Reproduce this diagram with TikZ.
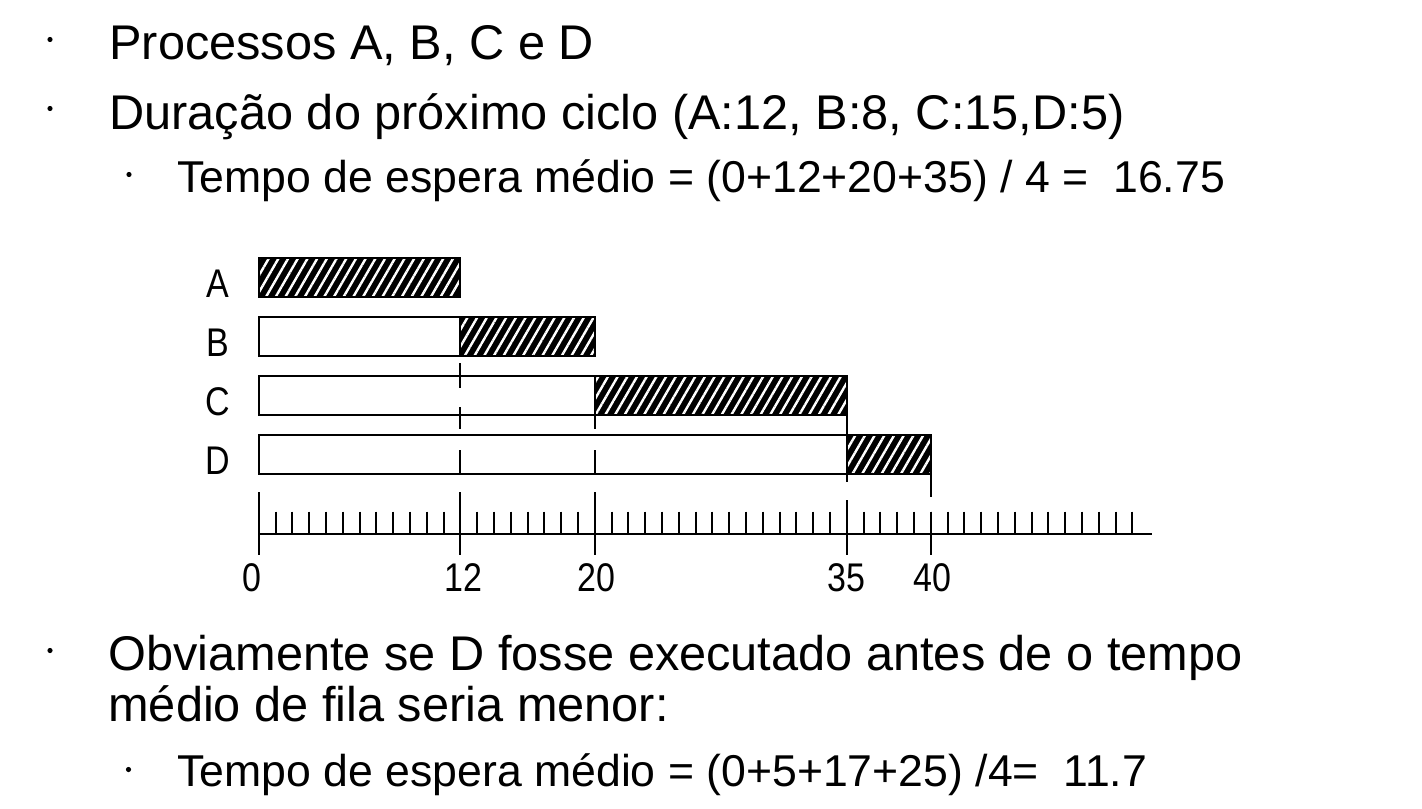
\documentclass[tikz,border=0pt]{standalone}
\usepackage{fontspec}
\setmainfont{Liberation Sans}
\newfontfamily\chartfont[FakeStretch=0.85]{Liberation Sans}
\usepackage{tikz}
\usetikzlibrary{patterns,patterns.meta}
\tikzset{
  bullet/.style={circle, fill=black, inner sep=0pt, minimum size=2.6pt},
  item/.style={anchor=base west, inner sep=0pt, font=\fontsize{24.35}{28}\selectfont},
  subitem/.style={anchor=base west, inner sep=0pt, font=\fontsize{22.3}{26}\selectfont},
  chartlabel/.style={anchor=base, inner sep=0pt, font=\chartfont\fontsize{20}{22}\selectfont},
}
\tikzset{
  busy/.style={draw=black, line width=1pt, preaction={fill=black},
    pattern={Lines[angle=60,distance=4.2pt,line width=1.2pt]}, pattern color=white},
  idle/.style={draw=black, line width=1pt, fill=white},
  guide/.style={line width=1pt},
}

\begin{document}
\begin{tikzpicture}[x=0.5pt,y=-0.5pt]
    \useasboundingbox (0,0) rectangle (1422,808);
    % bullet list, top
    \node[bullet] (b1) at (50,39.5) {};
    \node[item] (l1) at (109,59.3) {Processos A, B, C e D};
    \node[bullet] (b2) at (50,108.5) {};
    \node[item] (l2) at (109,129.3) {Duração do próximo ciclo (A:12, B:8, C:15,D:5)};
    \node[bullet] (b3) at (129,174.5) {};
    \node[subitem] (l3) at (177,192.7) {Tempo de espera médio = (0+12+20+35) / 4 =\ \ 16.75};
    % gantt chart
    \begin{scope}[shift={(258.7,0)}, x=8.4pt]
        \draw[busy] (0,258) rectangle (12,297);
        \draw[idle] (0,317) rectangle (12,356);
        \draw[busy] (12,317) rectangle (20,356);
        \draw[idle] (0,376) rectangle (20,415);
        \draw[busy] (20,376) rectangle (35,415);
        \draw[idle] (0,435) rectangle (35,474);
        \draw[busy] (35,435) rectangle (40,474);
        \node[chartlabel] (pA) at (-2.42,297) {A};
        \node[chartlabel] (pB) at (-2.42,356) {B};
        \node[chartlabel] (pC) at (-2.42,415) {C};
        \node[chartlabel] (pD) at (-2.42,474) {D};
        % guide marks
        \draw[guide] (12,363) -- (12,388);
        \draw[guide] (12,407) -- (12,429);
        \draw[guide] (12,450) -- (12,474);
        \draw[guide] (20,415) -- (20,429);
        \draw[guide] (20,450) -- (20,474);
        \draw[guide] (35,415) -- (35,482);
        \draw[guide] (40,474) -- (40,497);
        % time axis
        \draw[line width=1.2pt] (0,534) -- (53.2,534);
        \foreach \t in {1,...,52}
            \draw[guide] (\t,511.7) -- (\t,534);
        \draw[guide] (0,492) -- (0,555);
        \draw[guide] (12,492) -- (12,555);
        \draw[guide] (20,492) -- (20,555);
        \draw[guide] (35,500) -- (35,555);
        \draw[guide] (40,511.7) -- (40,555);
        \node[chartlabel] (t0) at (-0.4,591) {0};
        \node[chartlabel] (t12) at (12.2,591) {12};
        \node[chartlabel] (t20) at (20.1,591) {20};
        \node[chartlabel] (t35) at (35,591) {35};
        \node[chartlabel] (t40) at (40.1,591) {40};
    \end{scope}
    % bullet list, bottom
    \node[bullet] (b4) at (50,650.5) {};
    \node[item] (l4) at (108,670.7) {Obviamente se D fosse executado antes de o tempo};
    \node[item] (l5) at (108,721.7) {médio de fila seria menor:};
    \node[bullet] (b6) at (128.5,769.5) {};
    \node[subitem] (l6) at (177,786.7) {Tempo de espera médio = (0+5+17+25) /4=\ \ 11.7};
\end{tikzpicture}
\end{document}
